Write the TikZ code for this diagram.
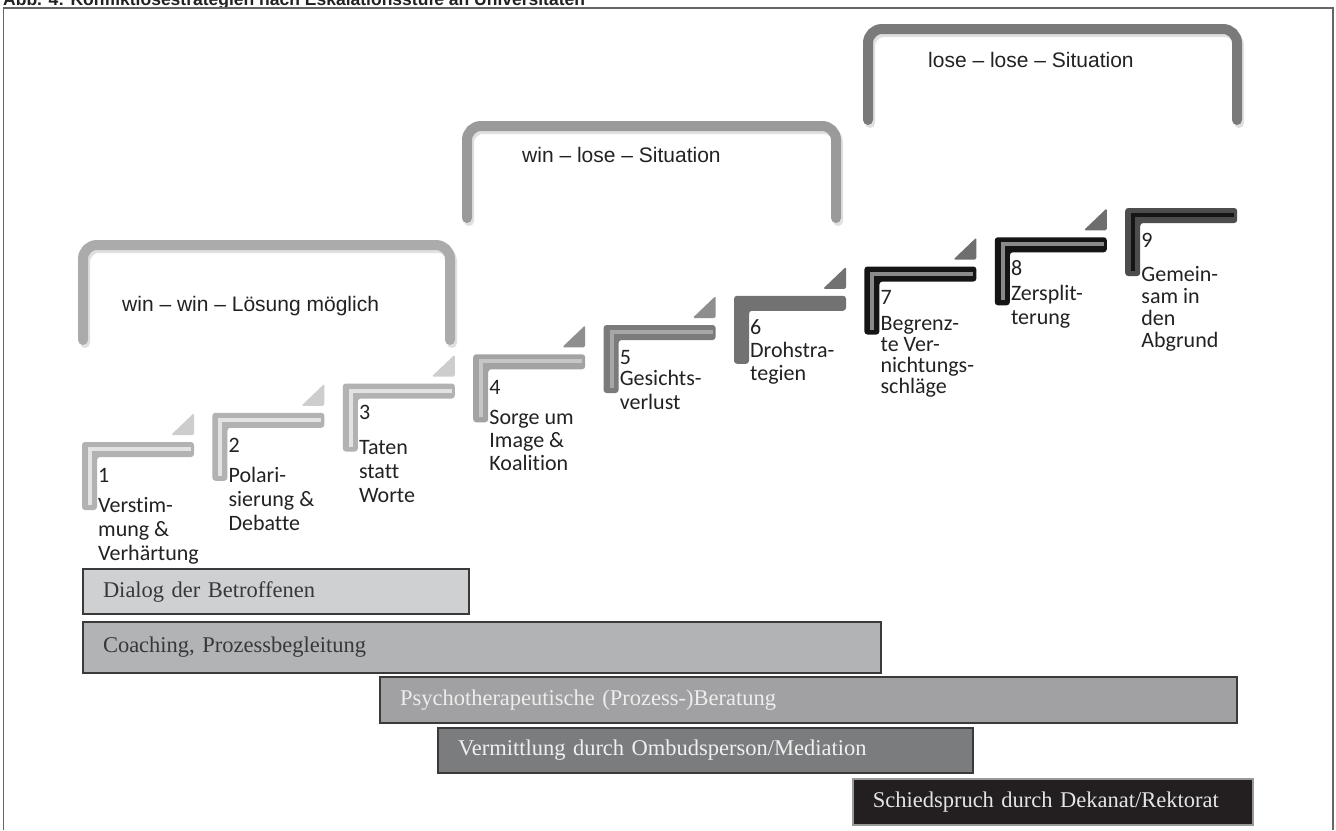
\documentclass[tikz,border=0pt]{standalone}
\usepackage{fontspec}
\setmainfont{Liberation Serif}
\newfontfamily\stepfont[Ligatures=NoCommon]{Carlito}
\newfontfamily\arialfont{Liberation Sans}
\definecolor{txtdark}{HTML}{222222}
\definecolor{framecol}{HTML}{666666}
\definecolor{brA}{HTML}{ABABAB}
\definecolor{brB}{HTML}{9A9A9A}
\definecolor{brC}{HTML}{7A7A7A}
\definecolor{sA}{HTML}{B2B2B2}
\definecolor{sAi}{HTML}{E3E3E3}
\definecolor{tA}{HTML}{CDCDCD}
\definecolor{sB}{HTML}{A3A3A3}
\definecolor{sBi}{HTML}{C6C6C6}
\definecolor{tB}{HTML}{8E8E8E}
\definecolor{sC}{HTML}{7B7B7B}
\definecolor{sCi}{HTML}{A6A6A6}
\definecolor{sD}{HTML}{727272}
\definecolor{sE}{HTML}{151515}
\definecolor{sEi}{HTML}{8A8A8A}
\definecolor{tE}{HTML}{6E6E6E}
\definecolor{sF}{HTML}{4D4D4D}
\definecolor{sFi}{HTML}{151515}
\definecolor{barA}{HTML}{CFD0D2}
\definecolor{barB}{HTML}{B2B3B5}
\definecolor{barC}{HTML}{A1A1A3}
\definecolor{barD}{HTML}{7B7C7E}
\definecolor{barE}{HTML}{231F20}
\definecolor{barline}{HTML}{3A3A3A}
\newcommand{\stairL}[4]{% L, T, outer, inner
  \fill[#3, rounded corners=3pt] (#1,#2+68) -- (#1,#2) -- (#1+112,#2) -- (#1+112,#2+15) -- (#1+15,#2+15) -- (#1+15,#2+68) -- cycle;
  \draw[#4, line width=4pt] (#1+8,#2+63) -- (#1+8,#2+7) -- (#1+109,#2+7);
}
\newcommand{\stairTri}[3]{% L, T, colour
  \fill[#3, rounded corners=1.5pt] (#1+89,#2-7) -- (#1+112,#2-7) -- (#1+112,#2-29) -- cycle;
}
\tikzset{
  stepnum/.style={anchor=base west, inner sep=0pt, text=txtdark, font=\stepfont\fontsize{22}{24}\selectfont},
  stepdesc/.style={anchor=north west, inner sep=0pt, align=left, text=txtdark},
  bracketline/.style={line width=10pt, line cap=round, rounded corners=14pt},
  bracketshadow/.style={line width=10pt, line cap=round, rounded corners=14pt, black!12},
  bracketlabel/.style={anchor=base west, inner sep=0pt, text=txtdark, font=\arialfont\fontsize{21}{25}\selectfont},
  barbox/.style={anchor=north west, draw=barline, line width=2pt, inner xsep=20pt, inner ysep=0pt, align=left, font=\fontsize{22.5}{27}\selectfont}
}
\begin{document}
\begin{tikzpicture}[x=1pt,y=-1pt]
\useasboundingbox (0,0) rectangle (1336,830);
\fill[white] (0,0) rectangle (1336,830);
% caption (cut at top in the reference) and frame
\begin{scope}
\clip (0,0) rectangle (1336,830);
\node[anchor=base west, inner sep=0pt, text=txtdark, font=\arialfont\bfseries\fontsize{17.5}{21}\selectfont] (cap) at (3,5) {Abb. 4: Konfliktlösestrategien nach Eskalationsstufe an Universitäten};
\end{scope}
\draw[framecol, line width=1.5pt] (3.5,830) -- (3.5,8) -- (1333,8) -- (1333,830);
% brackets
\draw[bracketshadow] (85,343) -- (85,248) -- (452,248) -- (452,343);
\draw[bracketline, brA] (83,340) -- (83,245) -- (450,245) -- (450,340);
\draw[bracketshadow] (469,221) -- (469,129) -- (838,129) -- (838,221);
\draw[bracketline, brB] (467,218) -- (467,126) -- (836,126) -- (836,218);
\draw[bracketshadow] (870,123) -- (870,32) -- (1239,32) -- (1239,123);
\draw[bracketline, brC] (868,120) -- (868,29) -- (1237,29) -- (1237,120);
\node[bracketlabel] (lwin) at (122,311) {win – win – Lösung möglich};
\node[bracketlabel] (lwl) at (522,162.5) {win – lose – Situation};
\node[bracketlabel] (lll) at (928,67) {lose – lose – Situation};
% stairs
\stairL{82}{442}{sA}{sAi}
\stairTri{82}{442}{tA}
\stairL{212.4}{412.75}{sA}{sAi}
\stairTri{212.4}{412.75}{tA}
\stairL{342.8}{383.5}{sA}{sAi}
\stairTri{342.8}{383.5}{tA}
\stairL{473.2}{354.25}{sB}{sBi}
\stairTri{473.2}{354.25}{tB}
\stairL{603.6}{325}{sC}{sCi}
\stairTri{603.6}{325}{tB}
\stairL{734}{295.75}{sD}{sD}
\stairTri{734}{295.75}{sD}
\stairL{864.4}{266.5}{sE}{sEi}
\stairTri{864.4}{266.5}{tE}
\stairL{994.8}{237.25}{sE}{sEi}
\stairTri{994.8}{237.25}{tE}
\stairL{1125.2}{208}{sF}{sFi}
% step numbers
\node[stepnum] (n1) at (98,482) {1};
\node[stepnum] (n2) at (228.4,452) {2};
\node[stepnum] (n3) at (358.8,419) {3};
\node[stepnum] (n4) at (489.2,394) {4};
\node[stepnum] (n5) at (619.6,364) {5};
\node[stepnum] (n6) at (750,334) {6};
\node[stepnum] (n7) at (880.4,304) {7};
\node[stepnum] (n8) at (1010.8,275) {8};
\node[stepnum] (n9) at (1141.2,247) {9};
% step descriptions
\node[stepdesc, font=\stepfont\fontsize{22}{24}\selectfont] (d1) at (98,495) {\strut Verstim-\\mung \&\\Verhärtung};
\node[stepdesc, font=\stepfont\fontsize{22}{24}\selectfont] (d2) at (228.4,465) {\strut Polari-\\sierung \&\\Debatte};
\node[stepdesc, font=\stepfont\fontsize{22}{24}\selectfont] (d3) at (358.8,437) {\strut Taten\\statt\\Worte};
\node[stepdesc, font=\stepfont\fontsize{22}{23}\selectfont] (d4) at (489.2,407.7) {\strut Sorge um\\Image \&\\Koalition};
\node[stepdesc, font=\stepfont\fontsize{22}{24}\selectfont] (d5) at (619.6,368) {\strut Gesichts-\\verlust};
\node[stepdesc, font=\stepfont\fontsize{22}{23}\selectfont] (d6) at (750,340.7) {\strut Drohstra-\\tegien};
\node[stepdesc, font=\stepfont\fontsize{22}{21}\selectfont] (d7) at (880.4,315.1) {\strut Begrenz-\\te Ver-\\nichtungs-\\schläge};
\node[stepdesc, font=\stepfont\fontsize{22}{24}\selectfont] (d8) at (1010.8,283) {\strut Zersplit-\\terung};
\node[stepdesc, font=\stepfont\fontsize{22}{22}\selectfont] (d9) at (1141.2,265.4) {\strut Gemein-\\sam in\\den\\Abgrund};
% strategy bars
\node[barbox, fill=barA, text=txtdark!90!white, minimum height=45pt, text width=346pt] (b1) at (82,568) {Dialog der Betroffenen};
\node[barbox, fill=barB, text=txtdark!90!white, minimum height=51pt, text width=758pt] (b2) at (82,621) {Coaching, Prozessbegleitung};
\node[barbox, fill=barC, text=white!93!black, minimum height=46pt, text width=817pt] (b3) at (379,676) {Psychotherapeutische (Prozess-)Beratung};
\node[barbox, fill=barD, text=white!94!black, minimum height=45pt, text width=495pt] (b4) at (437,727) {Vermittlung durch Ombudsperson/Mediation};
\node[barbox, fill=barE, draw=black!40, line width=1.5pt, text=white!90!black, minimum height=46pt, text width=360pt] (b5) at (852,778) {Schiedspruch durch Dekanat/Rektorat};
\end{tikzpicture}
\end{document}
